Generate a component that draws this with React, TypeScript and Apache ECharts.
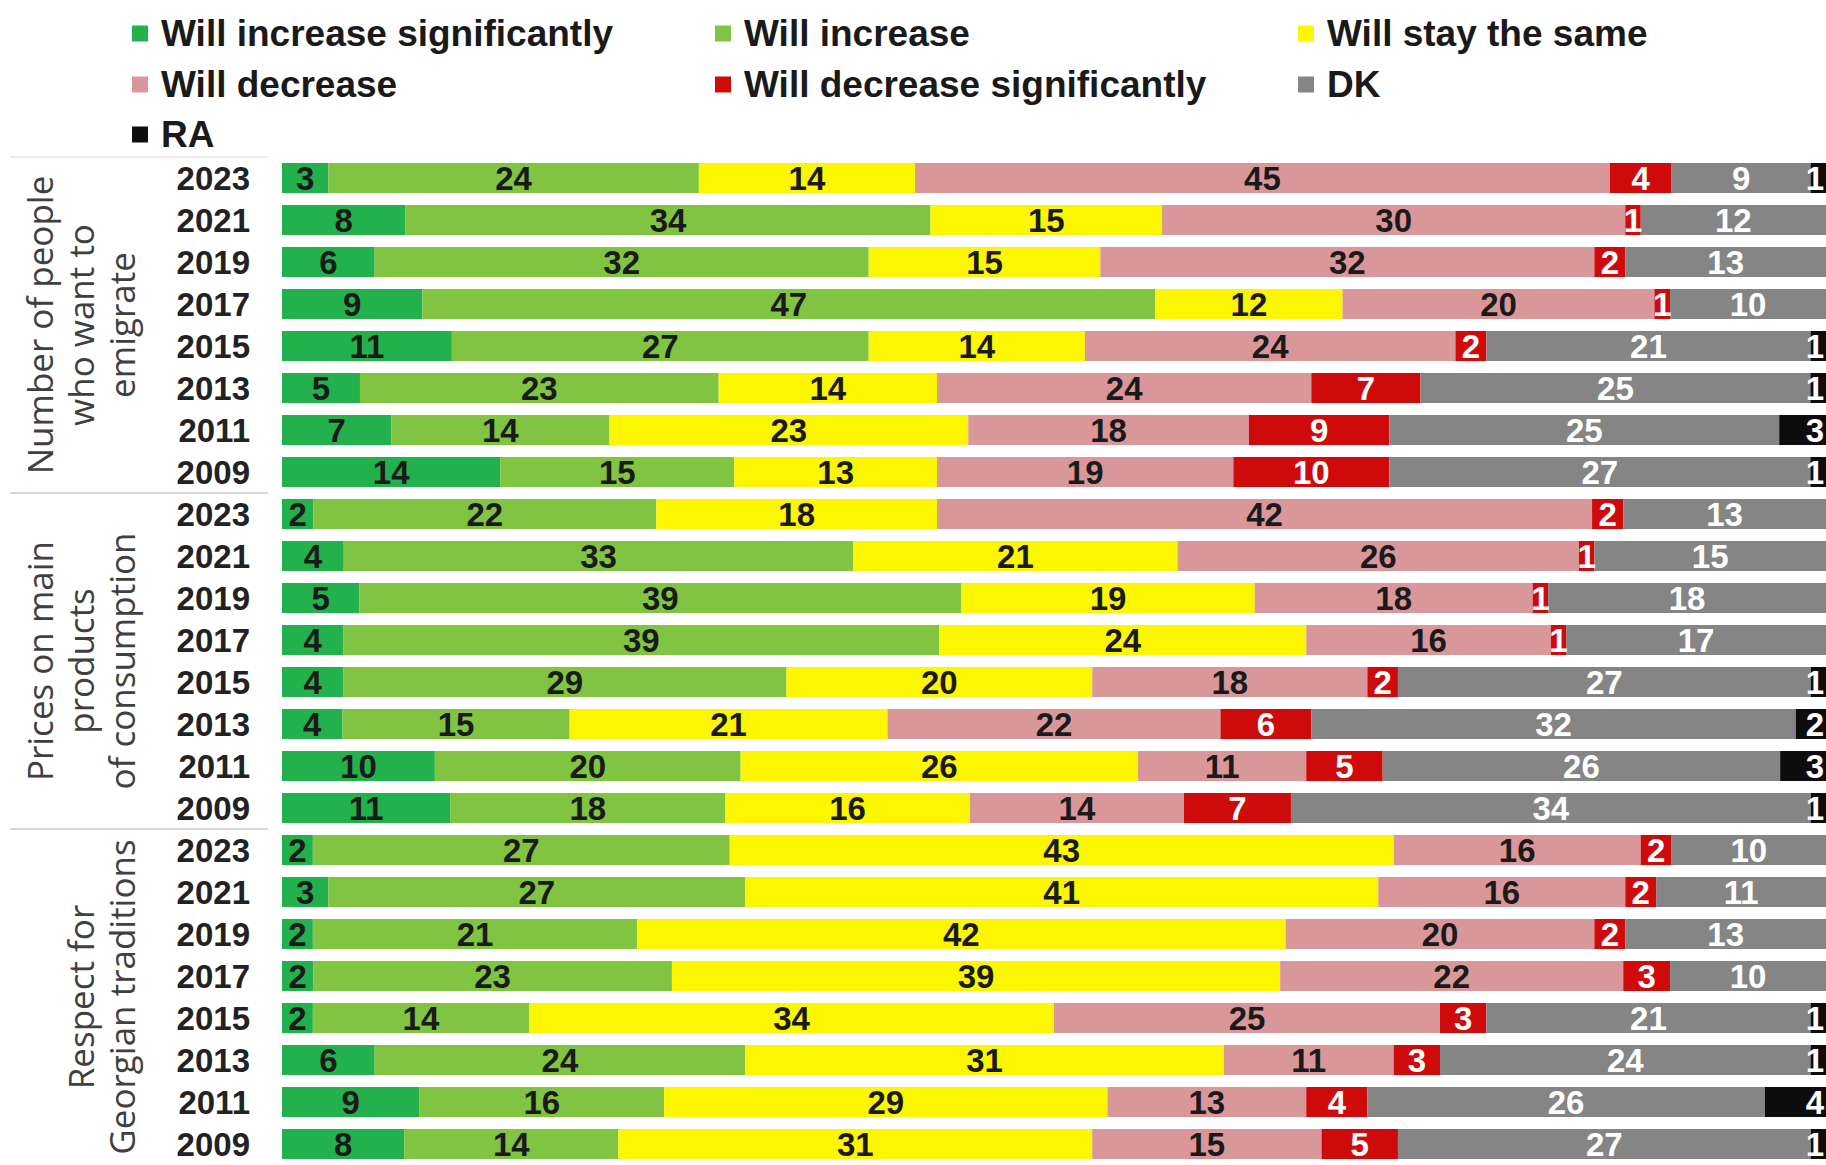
import React, { useEffect, useRef } from "react";
import * as echarts from "echarts";

const seriesNames = [
  "Will increase significantly",
  "Will increase",
  "Will stay the same",
  "Will decrease",
  "Will decrease significantly",
  "DK",
  "RA",
];
const seriesColors = ["#22b14c", "#80c441", "#fcf600", "#da979a", "#cf0a0a", "#858585", "#0d0d0d"];
const labelColors = ["#1a1a1a", "#1a1a1a", "#1a1a1a", "#1a1a1a", "#ffffff", "#ffffff", "#ffffff"];

const groupLines = [
  ["Number of people", "who want to", "emigrate"],
  ["Prices on main", "products", "of consumption"],
  ["Respect for", "Georgian traditions"],
];
const years = ["2023", "2021", "2019", "2017", "2015", "2013", "2011", "2009"];

// rows: emigrate 2023..2009, prices 2023..2009, traditions 2023..2009
const incSig = [3, 8, 6, 9, 11, 5, 7, 14, 2, 4, 5, 4, 4, 4, 10, 11, 2, 3, 2, 2, 2, 6, 9, 8];
const inc = [24, 34, 32, 47, 27, 23, 14, 15, 22, 33, 39, 39, 29, 15, 20, 18, 27, 27, 21, 23, 14, 24, 16, 14];
const same = [14, 15, 15, 12, 14, 14, 23, 13, 18, 21, 19, 24, 20, 21, 26, 16, 43, 41, 42, 39, 34, 31, 29, 31];
const dec = [45, 30, 32, 20, 24, 24, 18, 19, 42, 26, 18, 16, 18, 22, 11, 14, 16, 16, 20, 22, 25, 11, 13, 15];
const decSig = [4, 1, 2, 1, 2, 7, 9, 10, 2, 1, 1, 1, 2, 6, 5, 7, 2, 2, 2, 3, 3, 3, 4, 5];
const dk = [9, 12, 13, 10, 21, 25, 25, 27, 13, 15, 18, 17, 27, 32, 26, 34, 10, 11, 13, 10, 21, 24, 26, 27];
const ra = [1, 0, 0, 0, 1, 1, 3, 1, 0, 0, 0, 0, 1, 2, 3, 1, 0, 0, 0, 0, 1, 1, 4, 1];

const seriesValues = [incSig, inc, same, dec, decSig, dk, ra];

const FONT = "'Liberation Sans', Arial, sans-serif";
const GROUP_FONT = "'Open Sans', 'DejaVu Sans', sans-serif";

const categories: string[] = [];
groupLines.forEach((_, g) => years.forEach((y) => categories.push(g + "|" + y)));

const rowTotals = categories.map((_, i) => seriesValues.reduce((s, arr) => s + arr[i], 0));

const legendPos = [
  { left: 132, top: 15 },
  { left: 715, top: 15 },
  { left: 1298, top: 15 },
  { left: 132, top: 66 },
  { left: 715, top: 66 },
  { left: 1298, top: 66 },
  { left: 132, top: 116 },
];

export default function App() {
  const ref = useRef<HTMLDivElement>(null);

  useEffect(() => {
    if (!ref.current) return;
    const chart = echarts.init(ref.current, undefined, { renderer: "svg" });

    const series = seriesNames.map((name, s) => ({
      name,
      type: "bar",
      stack: "total",
      barWidth: 30,
      itemStyle: { color: seriesColors[s] },
      label: {
        show: true,
        position: s === seriesNames.length - 1 ? "insideRight" : "inside",
        distance: 2,
        color: labelColors[s],
        fontFamily: FONT,
        fontWeight: "bold",
        fontSize: 33,
        formatter: (p: any) => {
          const v = seriesValues[s][p.dataIndex];
          return v ? String(v) : "";
        },
      },
      data: seriesValues[s].map((v, i) => (v / rowTotals[i]) * 100),
    }));

    const legends = seriesNames.map((name, s) => ({
      data: [name],
      left: legendPos[s].left,
      top: legendPos[s].top,
      padding: 0,
      icon: "rect",
      itemWidth: 16,
      itemHeight: 16,
      selectedMode: false,
      textStyle: {
        fontFamily: FONT,
        fontWeight: "bold",
        fontSize: 37,
        color: "#1a1a1a",
        padding: [0, 0, 0, 8],
      },
    }));

    chart.setOption({
      animation: false,
      backgroundColor: "#ffffff",
      legend: legends,
      grid: { left: 282, right: 0, top: 157, height: 1013 },
      xAxis: { type: "value", min: 0, max: 100, show: false },
      yAxis: {
        type: "category",
        inverse: true,
        data: categories,
        axisLine: { show: false },
        axisTick: { show: false },
        axisLabel: {
          interval: 0,
          margin: 32,
          fontFamily: FONT,
          fontWeight: "bold",
          fontSize: 33,
          color: "#222222",
          formatter: (v: string) => v.split("|")[1],
        },
      },
      series,
    });

    // group labels and separators placed from the axis scale
    const graphics: any[] = [];
    const rowY = (i: number) => chart.convertToPixel({ yAxisIndex: 0 }, categories[i]) as number;
    const n = years.length;
    const step = rowY(1) - rowY(0);
    const lineXs3 = [39, 80, 121];
    const lineXs2 = [80, 121];
    groupLines.forEach((lines, g) => {
      const cy = (rowY(g * n) + rowY(g * n + n - 1)) / 2;
      const xs = lines.length === 3 ? lineXs3 : lineXs2;
      lines.forEach((t, k) => {
        graphics.push({
          type: "text",
          x: xs[k],
          y: cy,
          rotation: Math.PI / 2,
          style: {
            text: t,
            align: "center",
            verticalAlign: "middle",
            fill: "#404040",
            fontFamily: GROUP_FONT,
            fontSize: 35,
          },
        });
      });
      const sepY = rowY(g * n) - step / 2;
      graphics.push({
        type: "line",
        shape: { x1: 10, y1: sepY, x2: 268, y2: sepY },
        style: { stroke: g === 0 ? "#ececec" : "#d9d9d9", lineWidth: 2 },
      });
    });
    chart.setOption({ graphic: graphics });

    return () => chart.dispose();
  }, []);

  return (
    <div
      ref={ref}
      style={{ position: "fixed", left: 0, top: 0, width: 1826, height: 1165, background: "#fff" }}
    />
  );
}
